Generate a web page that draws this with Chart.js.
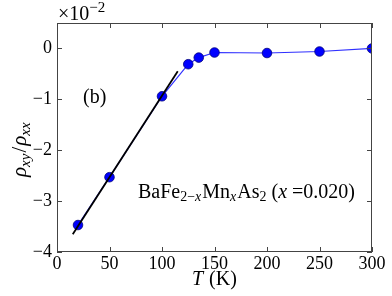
<!DOCTYPE html>
<html>
<head>
<meta charset="utf-8">
<script src="https://cdn.jsdelivr.net/npm/chart.js@4/dist/chart.umd.min.js"></script>
<style>
  html, body { margin: 0; padding: 0; background: #fff; }
  canvas { display: block; }
</style>
</head>
<body>
<canvas id="c" width="392" height="296"></canvas>
<script>
/* ─── Data (y values in units of 10^-2) ─── */
const temps = [20, 50, 100, 125, 135, 150, 200, 250, 300];
const ratio = [-3.47, -2.53, -0.94, -0.31, -0.18, -0.08, -0.09, -0.06, 0.0];
const fitT = [15, 115];
const fitRatio = [-3.65, -0.45];
const xTicks = [0, 50, 100, 150, 200, 250, 300];
const yTicks = [-4, -3, -2, -1, 0];

const SERIF = '"Liberation Serif", "DejaVu Serif", serif';
const FRAME = '#444';

function drawRuns(ctx, x, y, runs) {
  let cx = x;
  runs.forEach(r => {
    ctx.font = r.font;
    ctx.fillText(r.t, cx, y + (r.dy || 0));
    cx += ctx.measureText(r.t).width + (r.gap || 0);
  });
}

const framePlugin = {
  id: 'frame',
  afterDraw(chart) {
    const { ctx, chartArea: a, scales: { x, y } } = chart;
    ctx.save();
    ctx.strokeStyle = FRAME;
    ctx.lineWidth = 1;
    ctx.strokeRect(a.left + 0.5, a.top + 0.5, a.right - a.left - 1, a.bottom - a.top - 1);
    const len = 5;
    ctx.beginPath();
    xTicks.forEach(v => {
      const px = Math.round(x.getPixelForValue(v)) + 0.5;
      ctx.moveTo(px, a.bottom); ctx.lineTo(px, a.bottom - len);
      ctx.moveTo(px, a.top); ctx.lineTo(px, a.top + len);
    });
    yTicks.forEach(v => {
      const py = Math.round(y.getPixelForValue(v)) + 0.5;
      ctx.moveTo(a.left, py); ctx.lineTo(a.left + len, py);
      ctx.moveTo(a.right, py); ctx.lineTo(a.right - len, py);
    });
    ctx.stroke();

    // texts
    ctx.fillStyle = '#000';
    ctx.textBaseline = 'alphabetic';
    ctx.textAlign = 'left';
    // multiplier
    drawRuns(ctx, a.left + 1, 20, [
      { t: '×10', font: `20px ${SERIF}` },
      { t: '−2', font: `15px ${SERIF}`, dy: -8 },
    ]);
    // panel label
    drawRuns(ctx, 83, 103, [{ t: '(b)', font: `20px ${SERIF}` }]);
    // compound
    drawRuns(ctx, 138, 198, [
      { t: 'BaFe', font: `20px ${SERIF}` },
      { t: '2−', font: `14px ${SERIF}`, dy: 3 },
      { t: 'x', font: `italic 14px ${SERIF}`, dy: 3, gap: 1 },
      { t: 'Mn', font: `20px ${SERIF}` },
      { t: 'x', font: `italic 14px ${SERIF}`, dy: 3, gap: 1 },
      { t: 'As', font: `20px ${SERIF}` },
      { t: '2', font: `14px ${SERIF}`, dy: 3 },
      { t: ' (', font: `20px ${SERIF}` },
      { t: 'x', font: `italic 20px ${SERIF}` },
      { t: ' =0.020)', font: `20px ${SERIF}` },
    ]);
    // x title
    drawRuns(ctx, 192, 285, [
      { t: 'T', font: `italic 20px ${SERIF}`, gap: 1 },
      { t: ' (K)', font: `20px ${SERIF}` },
    ]);
    // y title (rotated)
    ctx.translate(26, 177);
    ctx.rotate(-Math.PI / 2);
    drawRuns(ctx, 0, 0, [
      { t: 'ρ', font: `italic 21px ${SERIF}` },
      { t: 'xy', font: `italic 15px ${SERIF}`, dy: 4, gap: 1 },
      { t: '/', font: `21px ${SERIF}`, gap: 1 },
      { t: 'ρ', font: `italic 21px ${SERIF}` },
      { t: 'xx', font: `italic 15px ${SERIF}`, dy: 4 },
    ]);
    ctx.restore();
  }
};

new Chart(document.getElementById('c'), {
  type: 'scatter',
  data: {
    datasets: [
      {
        label: 'fit',
        data: fitT.map((t, i) => ({ x: t, y: fitRatio[i] })),
        showLine: true, borderColor: '#000', borderWidth: 1.8,
        pointRadius: 0, order: 0,
      },
      {
        label: 'data',
        data: temps.map((t, i) => ({ x: t, y: ratio[i] })),
        showLine: true, borderColor: '#3030ff', borderWidth: 1.2,
        pointRadius: 4.8, pointBackgroundColor: '#0000ff', pointBorderColor: '#00007a',
        pointBorderWidth: 0.8, order: 1,
      },
    ]
  },
  options: {
    responsive: false, animation: false,
    layout: { padding: { left: 0, top: 23, right: 20, bottom: 0 } },
    plugins: { legend: { display: false }, tooltip: { enabled: false } },
    scales: {
      x: {
        type: 'linear', min: 0, max: 300,
        afterBuildTicks: s => { s.ticks = xTicks.map(v => ({ value: v })); },
        afterFit: s => { s.height = 44; },
        grid: { display: false, drawTicks: false },
        border: { display: false },
        ticks: { color: '#000', font: { family: SERIF, size: 18, lineHeight: 1 }, padding: 3, maxRotation: 0 },
      },
      y: {
        type: 'linear', min: -4, max: 0.5,
        afterBuildTicks: s => { s.ticks = yTicks.map(v => ({ value: v })); },
        afterFit: s => { s.width = 57; },
        grid: { display: false, drawTicks: false },
        border: { display: false },
        ticks: {
          color: '#000', font: { family: SERIF, size: 18 }, padding: 5,
          callback: v => (v < 0 ? '−' + Math.abs(v) : String(v)),
        },
      },
    }
  },
  plugins: [framePlugin],
});
</script>
</body>
</html>
